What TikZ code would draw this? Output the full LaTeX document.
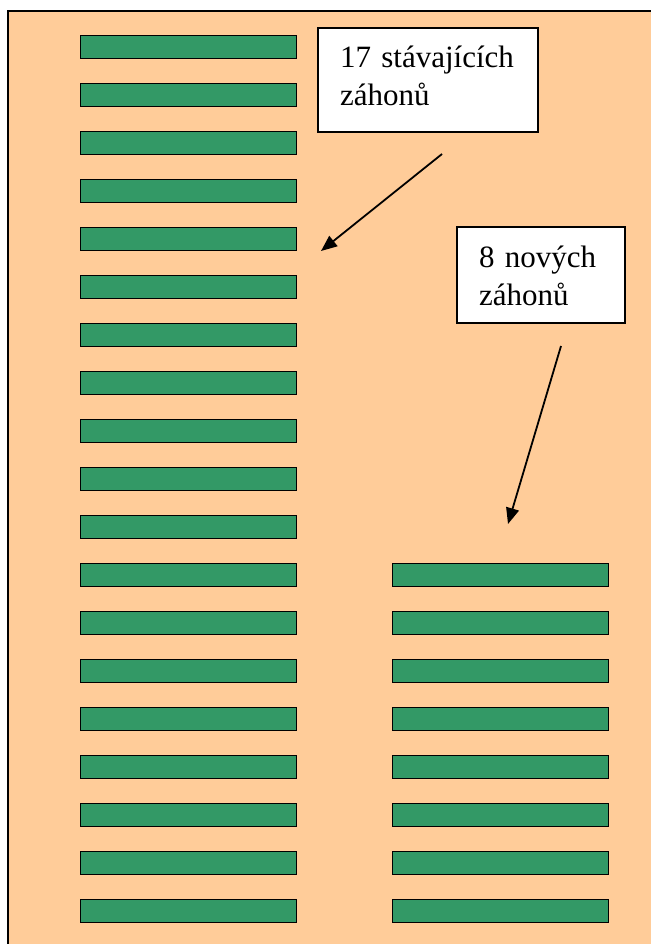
\documentclass[tikz,border=0pt]{standalone}
\usepackage{fontspec}
\setmainfont{Liberation Serif}
\usetikzlibrary{arrows.meta}
\definecolor{plotbg}{HTML}{FFCC99}
\definecolor{bedgreen}{HTML}{339966}
\begin{document}
\begin{tikzpicture}[x=1pt,y=-1pt,
  bed/.style={draw=black, line width=1.6pt, fill=bedgreen,
    minimum width=216pt, minimum height=23pt, inner sep=0pt, outer sep=0pt,
    anchor=north west},
  callout/.style={draw=black, line width=2pt, fill=white, anchor=north west,
    inner xsep=22pt, inner ysep=0pt, align=left,
    font=\fontsize{31}{38}\selectfont},
  pointer/.style={-{Triangle[length=16pt,width=13pt]}, line width=1.8pt}]
  % page area
  \useasboundingbox (0,0) rectangle (650,944);
  % garden plot
  \draw[line width=2pt, fill=plotbg] (8,11) rectangle (670,960);
  % existing beds (left column)
  \foreach \i in {1,...,19}
    \node[bed] (L\i) at (80.5, {35.5+48*(\i-1)}) {};
  % new beds (right column)
  \foreach \i in {1,...,8}
    \node[bed] (R\i) at (392.5, {563.5+48*(\i-1)}) {};
  % labels
  \node[callout, text width=176pt, text height=39.5pt, text depth=64.5pt]
    (old) at (317,27) {\mbox{17 stávajících}\\záhonů};
  \node[callout, text width=124pt, text height=40pt, text depth=56pt]
    (new) at (456,226) {\mbox{8 nových}\\záhonů};
  % pointers
  \coordinate (oldfrom) at (442,154);
  \coordinate (oldto) at (321,251);
  \coordinate (newfrom) at (561,346);
  \coordinate (newto) at (508,524);
  \draw[pointer] (oldfrom) -- (oldto);
  \draw[pointer] (newfrom) -- (newto);
\end{tikzpicture}
\end{document}
